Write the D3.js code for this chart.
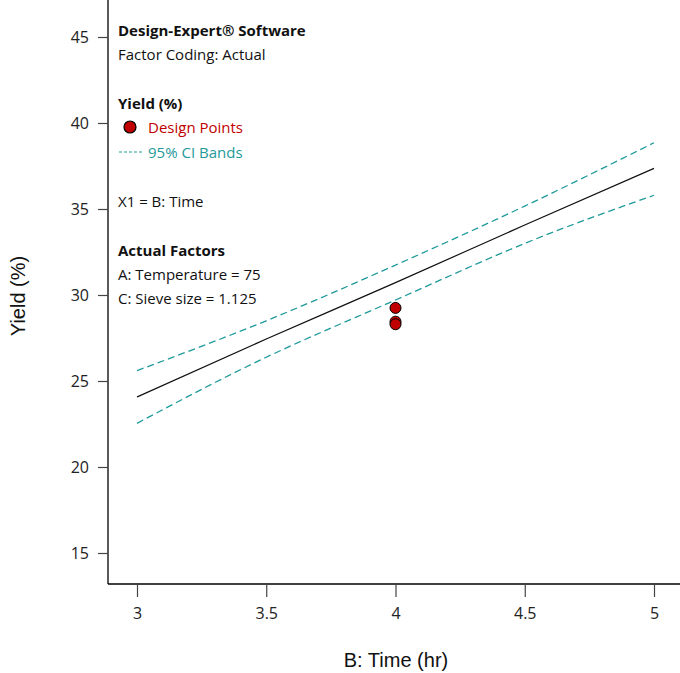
<!DOCTYPE html>
<html>
<head>
<meta charset="utf-8">
<script src="https://cdn.jsdelivr.net/npm/d3@7"></script>
<style>
  body { margin: 0; background: #fff; }
  svg { display: block; }
</style>
</head>
<body>
<script>
// data
const timeGrid = [3, 3.5, 4, 4.5, 5];
const predicted = [24.07, 27.44, 30.72, 34.07, 37.36];
const ciUpper = [25.6, 28.5, 31.74, 35.17, 38.85];
const ciLower = [22.54, 26.38, 29.71, 33.0, 35.8];
const pointTimes = [4, 4, 4];
const pointYields = [29.25, 28.45, 28.3];
const xTicks = [3, 3.5, 4, 4.5, 5];
const yTicks = [15, 20, 25, 30, 35, 40, 45];

const W = 680, H = 673;
const left = 108, bottom = 584;
const font = "'Open Sans', 'Noto Sans', sans-serif";

const svg = d3.select("body").append("svg")
  .attr("width", W)
  .attr("height", H);

const x = d3.scaleLinear().domain([3, 5]).range([137, 654]);
const y = d3.scaleLinear().domain([15, 45]).range([553, 37]);

// frame (left + bottom)
svg.append("line")
  .attr("x1", left).attr("x2", left)
  .attr("y1", 0).attr("y2", bottom)
  .attr("stroke", "#000").attr("stroke-width", 1.3);
svg.append("line")
  .attr("x1", left).attr("x2", W)
  .attr("y1", bottom).attr("y2", bottom)
  .attr("stroke", "#000").attr("stroke-width", 1.3);

// axes
const xAxis = svg.append("g")
  .attr("transform", `translate(0,${bottom})`)
  .call(d3.axisBottom(x).tickValues(xTicks).tickSize(13).tickPadding(11)
    .tickFormat(d3.format("")));
const yAxis = svg.append("g")
  .attr("transform", `translate(${left},0)`)
  .call(d3.axisLeft(y).tickValues(yTicks).tickSize(10).tickPadding(9));

[xAxis, yAxis].forEach(g => {
  g.select(".domain").remove();
  g.selectAll(".tick line").attr("stroke", "#444").attr("stroke-width", 1.2);
  g.selectAll(".tick text")
    .attr("fill", "#222")
    .style("font-family", font)
    .style("font-size", "16px");
});

// axis titles
svg.append("text")
  .attr("x", 396).attr("y", 667)
  .attr("text-anchor", "middle")
  .style("font-family", "'Liberation Sans', Arial, sans-serif")
  .style("font-size", "20px")
  .attr("fill", "#111")
  .text("B: Time (hr)");
svg.append("text")
  .attr("transform", "translate(25,296) rotate(-90)")
  .attr("text-anchor", "middle")
  .style("font-family", "'Liberation Sans', Arial, sans-serif")
  .style("font-size", "20px")
  .attr("fill", "#111")
  .text("Yield (%)");

// curves
const teal = "#1f9a9a";
const line = d3.line()
  .x((d, i) => x(timeGrid[i]))
  .y(d => y(d))
  .curve(d3.curveNatural);

svg.append("path")
  .datum(ciUpper)
  .attr("d", line)
  .attr("fill", "none")
  .attr("stroke", teal)
  .attr("stroke-width", 1.3)
  .attr("stroke-dasharray", "7,4");
svg.append("path")
  .datum(ciLower)
  .attr("d", line)
  .attr("fill", "none")
  .attr("stroke", teal)
  .attr("stroke-width", 1.3)
  .attr("stroke-dasharray", "7,4");
svg.append("path")
  .datum(predicted)
  .attr("d", line)
  .attr("fill", "none")
  .attr("stroke", "#111")
  .attr("stroke-width", 1.2);

// design points
svg.selectAll("circle.pt")
  .data(pointYields)
  .enter()
  .append("circle")
  .attr("class", "pt")
  .attr("cx", (d, i) => x(pointTimes[i]))
  .attr("cy", d => y(d))
  .attr("r", 5.5)
  .attr("fill", "#c00000")
  .attr("stroke", "#000")
  .attr("stroke-width", 1);

// legend / info text
const info = [
  { t: "Design-Expert® Software", y: 36, bold: true },
  { t: "Factor Coding: Actual", y: 60 },
  { t: "Yield (%)", y: 109, bold: true },
  { t: "X1 = B: Time", y: 207 },
  { t: "Actual Factors", y: 256, bold: true },
  { t: "A: Temperature = 75", y: 280 },
  { t: "C: Sieve size = 1.125", y: 304 }
];
svg.selectAll("text.info")
  .data(info)
  .enter()
  .append("text")
  .attr("class", "info")
  .attr("x", 118)
  .attr("y", d => d.y)
  .style("font-family", font)
  .style("font-size", "15px")
  .style("font-weight", d => d.bold ? "bold" : "normal")
  .attr("fill", "#111")
  .text(d => d.t);

svg.append("circle")
  .attr("cx", 130).attr("cy", 127).attr("r", 6)
  .attr("fill", "#c00000").attr("stroke", "#000").attr("stroke-width", 1.2);
svg.append("text")
  .attr("x", 148).attr("y", 133)
  .style("font-family", font).style("font-size", "15px")
  .attr("fill", "#c00000")
  .text("Design Points");
svg.append("line")
  .attr("x1", 119).attr("x2", 142)
  .attr("y1", 152).attr("y2", 152)
  .attr("stroke", teal).attr("stroke-width", 1.2)
  .attr("stroke-dasharray", "3,2");
svg.append("text")
  .attr("x", 148).attr("y", 158)
  .style("font-family", font).style("font-size", "15px")
  .attr("fill", teal)
  .text("95% CI Bands");
</script>
</body>
</html>
